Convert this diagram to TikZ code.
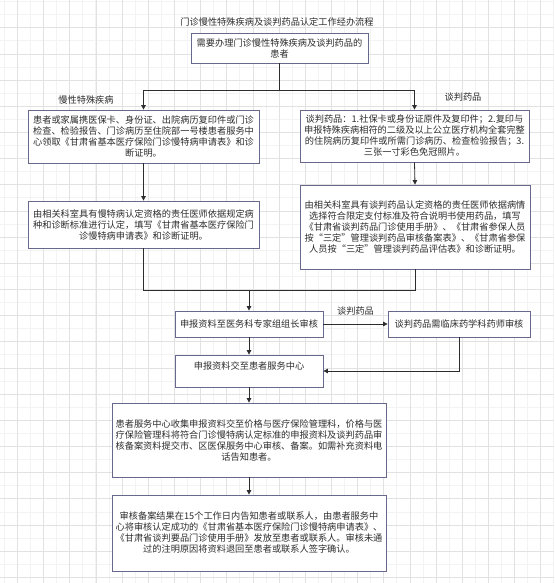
\documentclass[tikz,border=0pt]{standalone}
\usepackage{fontspec}
\setmainfont{Noto Sans CJK SC}
\usetikzlibrary{arrows.meta}
\definecolor{boxline}{RGB}{104,104,140}
\definecolor{txt}{RGB}{45,45,45}
\definecolor{gminor}{RGB}{243,243,243}
\definecolor{gmajor}{RGB}{226,226,226}
\newcommand{\fsz}{\fontsize{9.2}{11}\selectfont}
\begin{document}
\begin{tikzpicture}[x=1pt,y=-1pt,
  box/.style={draw=boxline, fill=white, line width=0.8pt, inner sep=0pt, align=center, font=\fsz, text=txt},
  conn/.style={draw=txt, line width=0.8pt, -{Triangle[width=4.5pt,length=4.5pt]}},
  plain/.style={draw=txt, line width=0.8pt},
  lbl/.style={font=\fsz, text=txt, inner sep=0pt}]
\useasboundingbox (0,0) rectangle (554,583);
\fill[white] (0,0) rectangle (554,583);
% grid
\foreach \i in {0,...,42} {\draw[gminor, line width=0.6pt] ({4.2+13.085*\i},0) -- ++(0,583);}
\foreach \i in {0,...,44} {\draw[gminor, line width=0.6pt] (0,{1.5+13.085*\i}) -- ++(554,0);}
\foreach \i in {0,...,20} {\draw[gmajor, line width=0.6pt] ({17.3+26.17*\i},0) -- ++(0,583);}
\foreach \i in {0,...,21} {\draw[gmajor, line width=0.6pt] (0,{27.7+26.17*\i}) -- ++(554,0);}

\node[lbl] (title) at (277,22) {门诊慢性特殊疾病及谈判药品认定工作经办流程};

\node[box, minimum width=177, minimum height=30] (A) at (279.5,48)
  {需要办理门诊慢性特殊疾病及谈判药品的\\患者};

\node[box, minimum width=231, minimum height=53] (B1) at (143.5,136.5)
  {患者或家属携医保卡、身份证、出院病历复印件或门诊\\检查、检验报告、门诊病历至住院部一号楼患者服务中\\心领取《甘肃省基本医疗保险门诊慢特病申请表》和诊\\断证明。};
\node[box, minimum width=229, minimum height=52] (C1) at (414.5,136)
  {谈判药品：1.社保卡或身份证原件及复印件；2.复印与\\申报特殊疾病相符的二级及以上公立医疗机构全套完整\\的住院病历复印件或所需门诊病历、检查检验报告；3.\\三张一寸彩色免冠照片。};
\node[box, minimum width=231, minimum height=47] (B2) at (143.5,224.5)
  {由相关科室具有慢特病认定资格的责任医师依据规定病\\种和诊断标准进行认定，填写《甘肃省基本医疗保险门\\诊慢特病申请表》和诊断证明。};
\node[box, minimum width=230, minimum height=84] (C2) at (415,227)
  {由相关科室具有谈判药品认定资格的责任医师依据病情\\选择符合限定支付标准及符合说明书使用药品，填写\\《甘肃省谈判药品门诊使用手册》、《甘肃省参保人员\\按“三定”管理谈判药品审核备案表》、《甘肃省参保\\人员按“三定”管理谈判药品评估表》和诊断证明。};

\node[lbl] (l1) at (86,100) {慢性特殊疾病};
\node[lbl] (l2) at (463,97) {谈判药品};

\node[box, minimum width=148, minimum height=26] (D) at (249,324) {申报资料至医务科专家组组长审核};
\node[box, minimum width=142, minimum height=26] (E) at (459,324) {谈判药品需临床药学科药师审核};
\node[box, minimum width=148, minimum height=32] (F) at (249,371) {\raisebox{11pt}{申报资料交至患者服务中心}};
\node[box, minimum width=274, minimum height=74] (G) at (249,440)
  {患者服务中心收集申报资料交至价格与医疗保险管理科，价格与医\\疗保险管理科将符合门诊慢特病认定标准的申报资料及谈判药品审\\核备案资料提交市、区医保服务中心审核、备案。如需补充资料电\\话告知患者。};
\node[box, minimum width=274, minimum height=76] (H) at (249,533)
  {审核备案结果在15个工作日内告知患者或联系人，由患者服务中\\心将审核认定成功的《甘肃省基本医疗保险门诊慢特病申请表》、\\《甘肃省谈判要品门诊使用手册》发放至患者或联系人。审核未通\\过的注明原因将资料退回至患者或联系人签字确认。};

% connectors
\coordinate (j1) at (279.5,90);
\draw[plain] (A.south) -- (j1);
\draw[conn] (j1) -| (B1.north);
\draw[conn] (j1) -| (C1.north);
\draw[conn] (B1.south) -- (B2.north);
\draw[conn] (C1.south) -- (C2.north);
\coordinate (j2) at (249,290.5);
\draw[plain] (B2.south) |- (j2);
\draw[plain] (C2.south) |- (j2);
\draw[conn] (j2) -- (D.north);
\draw[conn] (D.east) -- (E.west) node[lbl, midway, yshift=13pt] (l3) {谈判药品};
\draw[conn] (D.south) -- (F.north);
\draw[conn] (E.south) |- (F.east);
\draw[conn] (F.south) -- (G.north);
\draw[conn] (G.south) -- (H.north);
\end{tikzpicture}
\end{document}
